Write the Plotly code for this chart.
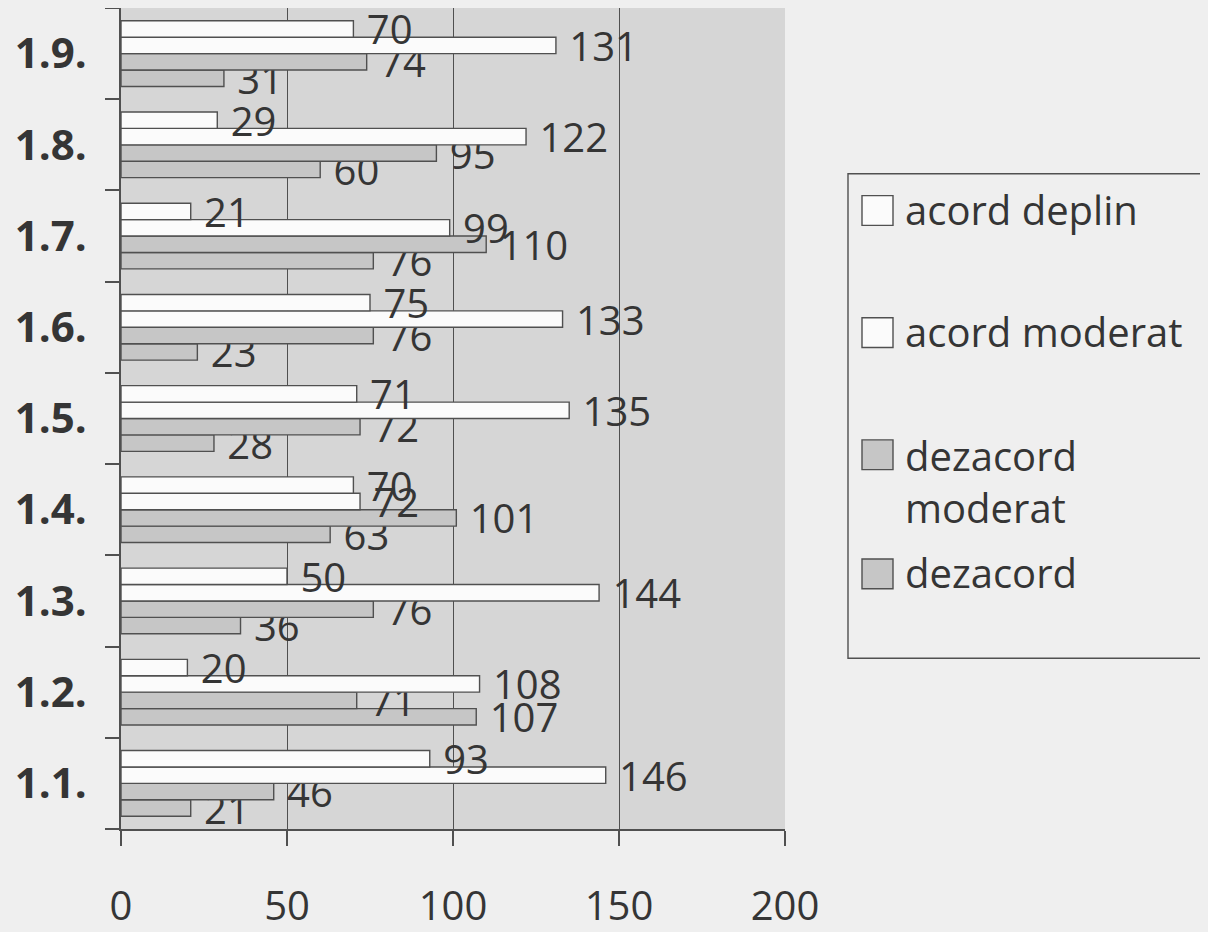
import plotly.graph_objects as go

categories = ["1.1.", "1.2.", "1.3.", "1.4.", "1.5.", "1.6.", "1.7.", "1.8.", "1.9."]
series_names = ["acord deplin", "acord moderat", "dezacord moderat", "dezacord"]
legend_labels = ["acord deplin", "acord moderat", "dezacord<br>moderat", "dezacord"]
acord_deplin = [93, 20, 50, 70, 71, 75, 21, 29, 70]
acord_moderat = [146, 108, 144, 72, 135, 133, 99, 122, 131]
dezacord_moderat = [46, 71, 76, 101, 72, 76, 110, 95, 74]
dezacord = [21, 107, 36, 63, 28, 23, 76, 60, 31]
x_ticks = [0, 50, 100, 150, 200]

values = [acord_deplin, acord_moderat, dezacord_moderat, dezacord]
fills = ["#fbfbfb", "#fbfbfb", "#c6c6c6", "#c6c6c6"]
LINE = "#505050"
TXT = "#353535"
FONT = "Open Sans"
BG = "#efefef"

OFF = 8  # page body margin in the browser
W, H = 1208 - OFF, 932 - OFF
# plot-area edges as seen on screen
SL, SR, ST, SB = 121, 785, 8, 835
L, R, T, B = SL - OFF, SR - OFF, ST - OFF, SB - OFF

fig = go.Figure()
# add in reverse so that 'acord deplin' is on top of each group
for i in reversed(range(4)):
    fig.add_trace(go.Bar(
        y=categories, x=values[i], orientation="h", name=series_names[i],
        marker=dict(color=fills[i], line=dict(color=LINE, width=1.4)),
        text=[str(v) for v in values[i]], texttemplate=" %{text}",
        textposition="outside",
        textfont=dict(family=FONT, size=40, color=TXT),
        constraintext="none", cliponaxis=False, showlegend=False,
    ))

def px(x):
    return (x - SL) / (SR - SL)

def py(y):
    return (SB - y) / (SB - ST)

shapes = []
annotations = []
# legend box (screen coordinates)
shapes.append(dict(type="rect", xref="paper", yref="paper",
                   x0=px(848), x1=px(1204), y0=py(663), y1=py(175),
                   line=dict(color=LINE, width=1.4), fillcolor="rgba(0,0,0,0)"))
item_y = [212, 335, 458, 578]
text_y = [211, 334, 485, 577]
for i in range(4):
    cy = item_y[i]
    shapes.append(dict(type="rect", xref="paper", yref="paper",
                       x0=px(862), x1=px(893), y0=py(cy + 15), y1=py(cy - 15),
                       line=dict(color=LINE, width=1.4), fillcolor=fills[i]))
    annotations.append(dict(xref="paper", yref="paper", x=px(903), y=py(text_y[i]),
                            text=legend_labels[i], showarrow=False,
                            xanchor="left", yanchor="middle", align="left",
                            font=dict(family=FONT, size=40, color=TXT)))

fig.update_layout(
    width=W, height=H,
    margin=dict(l=L, r=W - R, t=T, b=H - B, pad=0),
    paper_bgcolor=BG, plot_bgcolor="#d6d6d6",
    barmode="group", bargap=0.28, bargroupgap=0,
    showlegend=False,
    shapes=shapes, annotations=annotations,
    font=dict(family=FONT, color=TXT),
)
fig.update_xaxes(
    range=[0, 200], tickvals=x_ticks, ticktext=[str(v) for v in x_ticks],
    showgrid=True, gridcolor=LINE, gridwidth=1.2,
    showline=True, linecolor=LINE, linewidth=1.5, zeroline=False,
    ticks="outside", ticklen=15, tickcolor=LINE, tickwidth=1.5,
    tickfont=dict(family=FONT, size=40, color=TXT), ticklabelstandoff=26,
)
fig.update_yaxes(
    showline=True, linecolor=LINE, linewidth=1.5,
    ticks="outside", tickson="boundaries", ticklen=14, tickcolor=LINE, tickwidth=1.5,
    tickfont=dict(family=FONT, size=42, color=TXT, weight="bold"),
    ticklabelstandoff=24, showgrid=False,
)

fig.write_html("out.html",
               post_script="document.body.style.background='%s';" % BG)
